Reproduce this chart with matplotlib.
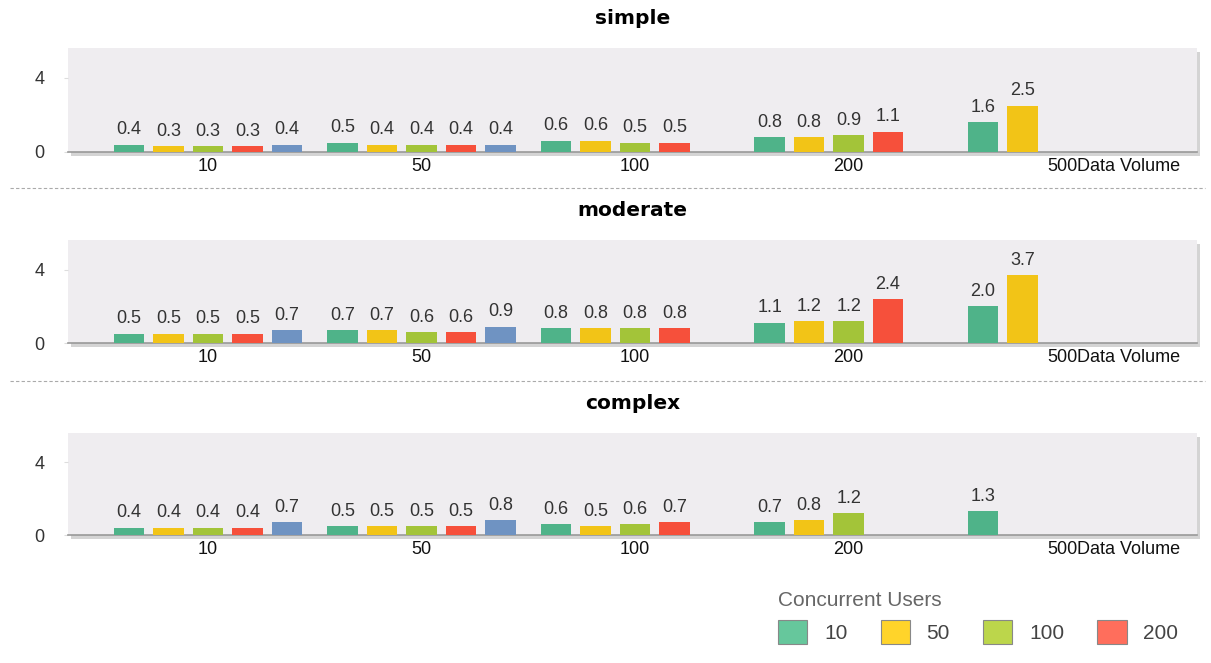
import matplotlib.pyplot as plt
from matplotlib.patches import Rectangle, Patch
from matplotlib.lines import Line2D
import numpy as np

volumes = ['10', '50', '100', '200', '500']
users = ['10', '50', '100', '200', '500']
panels = ['simple', 'moderate', 'complex']

# response time per data volume, one list per concurrent-users series (None = no bar)
simple = {
    '10':  [0.4, 0.5, 0.6, 0.8, 1.6],
    '50':  [0.3, 0.4, 0.6, 0.8, 2.5],
    '100': [0.3, 0.4, 0.5, 0.9, None],
    '200': [0.3, 0.4, 0.5, 1.1, None],
    '500': [0.4, 0.4, None, None, None],
}
moderate = {
    '10':  [0.5, 0.7, 0.8, 1.1, 2.0],
    '50':  [0.5, 0.7, 0.8, 1.2, 3.7],
    '100': [0.5, 0.6, 0.8, 1.2, None],
    '200': [0.5, 0.6, 0.8, 2.4, None],
    '500': [0.7, 0.9, None, None, None],
}
complex_ = {
    '10':  [0.4, 0.5, 0.6, 0.7, 1.3],
    '50':  [0.4, 0.5, 0.5, 0.8, None],
    '100': [0.4, 0.5, 0.6, 1.2, None],
    '200': [0.4, 0.5, 0.7, None, None],
    '500': [0.7, 0.8, None, None, None],
}
data = [simple, moderate, complex_]

colors = {'10': '#4fb389', '50': '#f2c417', '100': '#a3c439',
          '200': '#f6503b', '500': '#6f93c2'}
legend_colors = {'10': '#66c79c', '50': '#ffd42a', '100': '#bcd64b', '200': '#ff6e5c'}

plt.rcParams['font.family'] = ['Liberation Sans', 'DejaVu Sans']

fig = plt.figure(figsize=(12.11, 6.63), dpi=100)
W, H = 1211, 663

# pixel boxes of the three plot areas (left, top, right, bottom)
boxes = [(68, 48, 1197, 152), (68, 240, 1197, 343), (68, 433, 1197, 535)]
title_y = [18, 211, 404]
step = 0.185
width = 0.143
x = np.arange(len(volumes))

for i, (name, d) in enumerate(zip(panels, data)):
    l, t, r, b = boxes[i]
    # drop shadow behind plot area
    fig.patches.append(Rectangle(((l + 3) / W, 1 - (b + 4) / H), (r - l) / W, (b - t) / H,
                                 transform=fig.transFigure, facecolor='#d4d4d4',
                                 edgecolor='none', zorder=-5))
    ax = fig.add_axes([l / W, 1 - b / H, (r - l) / W, (b - t) / H])
    ax.set_zorder(2)
    ax.set_facecolor('#efedf0')
    for k, u in enumerate(users):
        vals = d[u]
        for j, v in enumerate(vals):
            if v is None:
                continue
            xc = x[j] + (k - 2) * step
            ax.bar(xc, v, width=width, color=colors[u], edgecolor='none', zorder=3)
            ax.text(xc, v + 0.35, f'{v:.1f}', ha='center', va='bottom',
                    fontsize=13, color='#333333', zorder=4)
    ax.set_xlim(-0.656, 4.632)
    ax.set_ylim(0, 5.62)
    ax.set_yticks([0, 4])
    ax.set_yticklabels(['0', '4'], fontsize=13, color='#333333')
    ax.set_xticks(x)
    ax.set_xticklabels(volumes, fontsize=13, color='#111111')
    ax.tick_params(axis='x', length=0, pad=4)
    ax.tick_params(axis='y', length=3, color='#dddddd', pad=14)
    for s in ['top', 'right', 'left']:
        ax.spines[s].set_visible(False)
    ax.spines['bottom'].set_color('#999999')
    ax.spines['bottom'].set_linewidth(1.2)
    ax.text((1077 - l) / (r - l), -0.055, 'Data Volume', transform=ax.transAxes,
            ha='left', va='top', fontsize=13, color='#111111')
    fig.text(0.5 * (l + r) / W, 1 - title_y[i] / H, name, ha='center', va='center',
             fontsize=14.5, fontweight='bold', family='DejaVu Sans', color='#000000')

# dashed separators between panels
for yy in [188, 381]:
    fig.add_artist(Line2D([10 / W, 1205 / W], [1 - yy / H, 1 - yy / H],
                          transform=fig.transFigure, color='#aaaaaa', lw=0.8,
                          linestyle=(0, (3, 2))))

handles = [Patch(facecolor=legend_colors[u], edgecolor='#888888', linewidth=0.8)
           for u in users[:4]]
leg = fig.legend(handles, users[:4], title='Concurrent Users', ncol=4,
                 loc='lower right', bbox_to_anchor=(1197 / W, 0.0), frameon=False,
                 fontsize=15, title_fontsize=15, handlelength=1.4, handleheight=1.4,
                 columnspacing=1.6, handletextpad=0.8, alignment='left')
for txt in leg.get_texts():
    txt.set_color('#444444')
leg.get_title().set_color('#666666')

fig.savefig('out.png', dpi=100)
